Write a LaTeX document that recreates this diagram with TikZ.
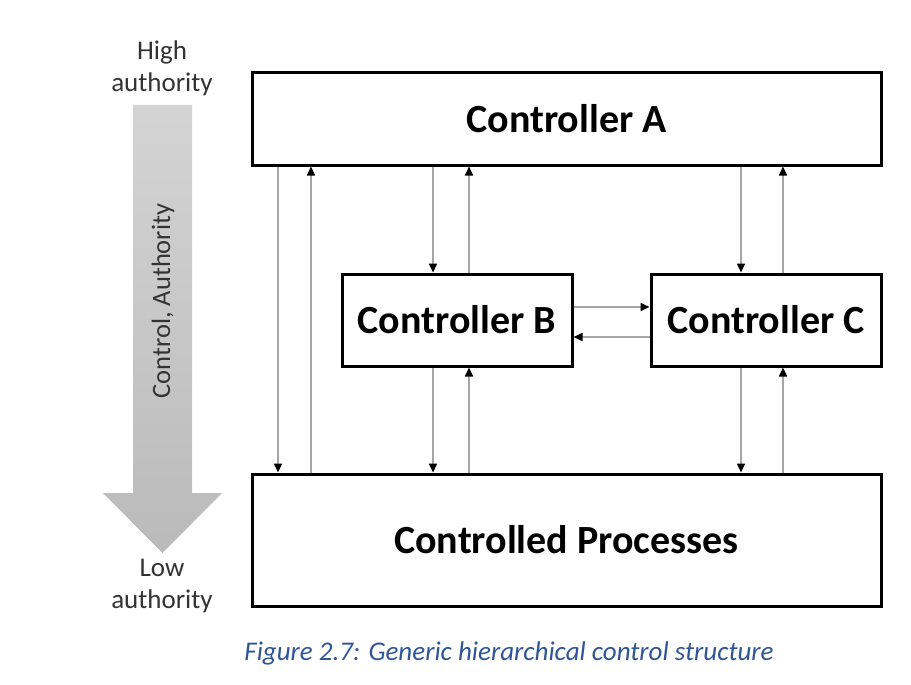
\documentclass[tikz,border=0pt]{standalone}
\usepackage{fontspec}
\setmainfont{Carlito}
\usetikzlibrary{arrows.meta,calc}
\definecolor{capblue}{HTML}{2F5597}
\definecolor{connc}{HTML}{A6A6A6}
\tikzset{
  box/.style={draw=black, line width=3pt, fill=white, inner sep=0pt, font=\fontsize{40}{46}\selectfont\bfseries},
  conn/.style={draw=connc, line width=1.6pt, -{Triangle[length=9pt,width=8pt,color=black]}},
  side/.style={font=\fontsize{27}{32}\selectfont, text=black!80, align=center, inner sep=0pt},
}
\begin{document}
\begin{tikzpicture}[x=1pt,y=-1pt]
\useasboundingbox (0,0) rectangle (911,685);
% authority arrow
\shade[top color=black!17, bottom color=black!27]
  (133,105) -- (192,105) -- (192,493) -- (222,493) -- (162.5,553) -- (103,493) -- (133,493) -- cycle;
\node[side, font=\fontsize{26.5}{32}\selectfont, rotate=90] (ca) at (163,301) {Control, Authority};
\node[side] (hi) at (162,68) {High\\authority};
\node[side] (lo) at (162,586) {Low\\authority};
% boxes
\node[box, minimum width=629pt, minimum height=92pt] (A) at (566.5,119) {Controller A};
\node[box, minimum width=230pt, minimum height=92pt] (B) at (457,320) {Controller B};
\node[box, minimum width=230pt, minimum height=92pt] (C) at (766,320) {Controller C};
\node[box, minimum width=629pt, minimum height=132pt] (P) at (566.5,540) {Controlled Processes};
% x positions
\coordinate (x1) at (278,0);
\coordinate (x2) at (311,0);
\coordinate (x3) at (433,0);
\coordinate (x4) at (469,0);
\coordinate (x5) at (741,0);
\coordinate (x6) at (783,0);
\coordinate (y1) at (0,307);
\coordinate (y2) at (0,337);
% connectors
\draw[conn] (A.south -| x1) -- (P.north -| x1);
\draw[conn] (P.north -| x2) -- (A.south -| x2);
\draw[conn] (A.south -| x3) -- (B.north -| x3);
\draw[conn] (B.north -| x4) -- (A.south -| x4);
\draw[conn] (A.south -| x5) -- (C.north -| x5);
\draw[conn] (C.north -| x6) -- (A.south -| x6);
\draw[conn] (B.south -| x3) -- (P.north -| x3);
\draw[conn] (P.north -| x4) -- (B.south -| x4);
\draw[conn] (C.south -| x5) -- (P.north -| x5);
\draw[conn] (P.north -| x6) -- (C.south -| x6);
\draw[conn] (B.east |- y1) -- (C.west |- y1);
\draw[conn] (C.west |- y2) -- (B.east |- y2);
% caption
\node[font=\fontsize{27}{32}\selectfont\itshape, text=capblue, inner sep=0pt] (cap) at (509,653) {Figure 2.7: Generic hierarchical control structure};
\end{tikzpicture}
\end{document}
